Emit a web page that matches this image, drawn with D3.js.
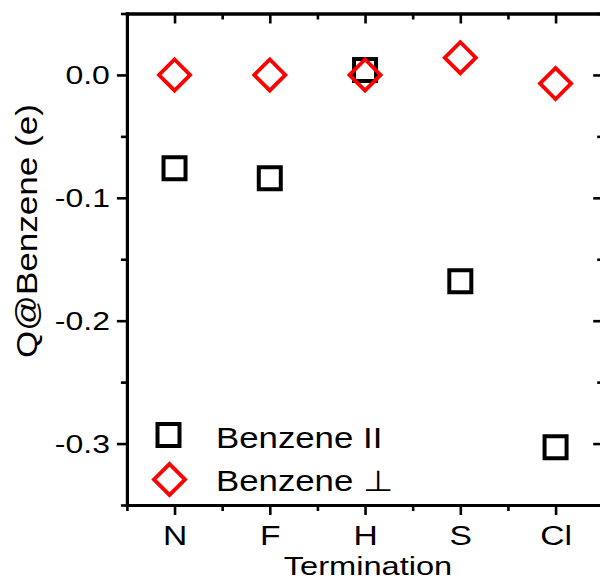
<!DOCTYPE html>
<html>
<head>
<meta charset="utf-8">
<script src="https://cdn.jsdelivr.net/npm/d3@7"></script>
<style>
  html, body { margin: 0; padding: 0; background: #fff; }
  svg { display: block; }
  text { font-family: "Liberation Sans", Arial, sans-serif; fill: #000; }
</style>
</head>
<body>
<svg id="chart" width="600" height="581"></svg>
<script>
// ---- data ----
const categories = ["N", "F", "H", "S", "Cl"];
const benzeneParallel = [-0.076, -0.084, 0.004, -0.168, -0.303];
const benzenePerp = [0.000, 0.000, 0.000, 0.014, -0.007];
const yMajorTicks = [0.0, -0.1, -0.2, -0.3];
const yTickLabels = ["0.0", "-0.1", "-0.2", "-0.3"];
const yMinorTicks = [0.05, -0.05, -0.15, -0.25, -0.35];
const seriesNames = ["Benzene II", "Benzene \u22A5"];
const xTitle = "Termination";
const yTitle = "Q@Benzene (e)";

// ---- layout ----
const svg = d3.select("#chart");
const pLeft = 126.9, pRight = 603.2, pTop = 13.5, pBottom = 505;
const x = d3.scaleLinear().domain([0.5, 5.5]).range([pLeft, pRight]);
const y = d3.scaleLinear().domain([-0.35, 0.05]).range([pBottom, pTop]);
const xMajor = categories.map((d, i) => i + 1);
const xMinor = d3.range(0.5, 5.6, 1);
const axisW = 3, tickW = 2.6;

function styleAxis(g) {
  g.select(".domain").attr("stroke", "#000").attr("stroke-width", axisW).attr("stroke-linecap", "square");
  g.selectAll(".tick line").attr("stroke", "#000").attr("stroke-width", tickW);
}

// minor ticks (drawn first)
svg.append("g").attr("transform", `translate(${pLeft},0)`)
  .call(d3.axisLeft(y).tickValues(yMinorTicks).tickSize(6).tickSizeOuter(0).tickFormat(""))
  .call(styleAxis);
svg.append("g").attr("transform", `translate(${pRight},0)`)
  .call(d3.axisRight(y).tickValues(yMinorTicks).tickSize(-6).tickSizeOuter(0).tickFormat(""))
  .call(styleAxis);
svg.append("g").attr("transform", `translate(0,${pBottom})`)
  .call(d3.axisBottom(x).tickValues(xMinor).tickSize(6).tickSizeOuter(0).tickFormat(""))
  .call(styleAxis);
svg.append("g").attr("transform", `translate(0,${pTop})`)
  .call(d3.axisTop(x).tickValues(xMinor).tickSize(-6).tickSizeOuter(0).tickFormat(""))
  .call(styleAxis);

// major axes
const sY = 1.23, sX = 1.2;
const gy = svg.append("g").attr("transform", `translate(${pLeft},0)`)
  .call(d3.axisLeft(y).tickValues(yMajorTicks).tickSize(10).tickSizeOuter(0)
    .tickFormat((d, i) => yTickLabels[i]))
  .call(styleAxis);
gy.selectAll(".tick text")
  .attr("font-size", 26).attr("font-family", "Liberation Sans, Arial, sans-serif")
  .attr("x", -17 / sY).attr("dy", "0.34em")
  .attr("transform", `scale(${sY},1)`);

svg.append("g").attr("transform", `translate(${pRight},0)`)
  .call(d3.axisRight(y).tickValues(yMajorTicks).tickSize(-10).tickSizeOuter(0).tickFormat(""))
  .call(styleAxis);

const gx = svg.append("g").attr("transform", `translate(0,${pBottom})`)
  .call(d3.axisBottom(x).tickValues(xMajor).tickSize(10).tickSizeOuter(0)
    .tickFormat(d => categories[d - 1]))
  .call(styleAxis);
gx.selectAll(".tick text")
  .attr("font-size", 28).attr("font-family", "Liberation Sans, Arial, sans-serif")
  .attr("y", 40).attr("dy", null)
  .attr("transform", `scale(${sX},1)`);

svg.append("g").attr("transform", `translate(0,${pTop})`)
  .call(d3.axisTop(x).tickValues(xMajor).tickSize(-10).tickSizeOuter(0).tickFormat(""))
  .call(styleAxis);

// ---- markers ----
const squareSym = d3.symbol().type(d3.symbolSquare).size(22 * 22);
const diamondSym = d3.symbol().type(d3.symbolSquare).size(22 * 22);

svg.append("g").selectAll("path")
  .data(benzeneParallel)
  .join("path")
  .attr("d", squareSym)
  .attr("transform", (d, i) => `translate(${x(i + 1)},${y(d)})`)
  .attr("fill", "none").attr("stroke", "#000").attr("stroke-width", 4);

svg.append("g").selectAll("path")
  .data(benzenePerp)
  .join("path")
  .attr("d", diamondSym)
  .attr("transform", (d, i) => `translate(${x(i + 1)},${y(d)}) rotate(45)`)
  .attr("fill", "none").attr("stroke", "#ff0000").attr("stroke-width", 3.8);

// ---- legend ----
const legend = svg.append("g");
legend.append("path").attr("d", squareSym)
  .attr("transform", `translate(168.5,435)`)
  .attr("fill", "none").attr("stroke", "#000").attr("stroke-width", 4);
legend.append("path").attr("d", diamondSym)
  .attr("transform", `translate(169.5,479.5) rotate(45)`)
  .attr("fill", "none").attr("stroke", "#ff0000").attr("stroke-width", 3.8);
[447.5, 490.5].forEach((by, i) => {
  legend.append("text")
    .attr("transform", `translate(216,${by}) scale(1.2,1)`)
    .attr("font-size", 29)
    .text(seriesNames[i]);
});

// ---- titles ----
svg.append("text")
  .attr("transform", `translate(368,575.2) scale(1.23,1)`)
  .attr("text-anchor", "middle").attr("font-size", 26.5)
  .text(xTitle);
svg.append("text")
  .attr("transform", `translate(37,231) rotate(-90) scale(1.21,1)`)
  .attr("text-anchor", "middle").attr("font-size", 29)
  .text(yTitle);
</script>
</body>
</html>
